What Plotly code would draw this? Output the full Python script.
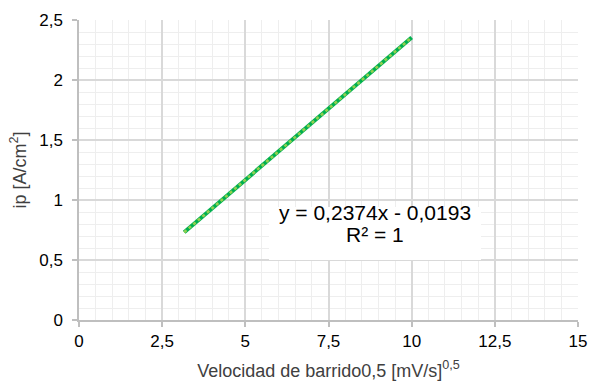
import plotly.graph_objects as go

# Square root of the scan rate, [mV/s]^0.5, and the measured peak current density
sqrt_scan_rate = [3.162, 4.472, 5.477, 7.071, 8.367, 10.0]
peak_current = [0.731, 1.042, 1.281, 1.659, 1.967, 2.355]

# Linear fit reported on the chart
slope = 0.2374
intercept = -0.0193
r_squared = 1

x_ticks = [0, 2.5, 5, 7.5, 10, 12.5, 15]
y_ticks = [0, 0.5, 1, 1.5, 2, 2.5]

FONT = "Liberation Sans, Arial, sans-serif"
TEXT = "#404040"

fit_x = [min(sqrt_scan_rate), max(sqrt_scan_rate)]
fit_y = [slope * v + intercept for v in fit_x]

fig = go.Figure()
fig.add_trace(go.Scatter(
    x=sqrt_scan_rate, y=peak_current, mode="lines",
    line=dict(color="#00B050", width=4), showlegend=False,
))
fig.add_trace(go.Scatter(
    x=fit_x, y=fit_y, mode="lines",
    line=dict(color="#92D050", width=2.6, dash="dot"), showlegend=False,
))

# Equation label with white background
fig.add_shape(type="rect", xref="paper", yref="paper",
              x0=(269 - 79) / 499, x1=(481 - 79) / 499,
              y0=(320 - 260) / 300, y1=(320 - 207) / 300,
              fillcolor="white", line=dict(width=0), layer="above")
eq_text = f"y = {slope:.4f}x - {abs(intercept):.4f}".replace(".", ",")
fig.add_annotation(x=(375 - 79) / 499, y=(320 - 226) / 300, xref="paper", yref="paper",
                   text=eq_text, showarrow=False,
                   font=dict(family=FONT, size=21, color="#000000"))
fig.add_annotation(x=(375 - 79) / 499, y=(320 - 248) / 300, xref="paper", yref="paper",
                   text=f"R² = {r_squared}", showarrow=False,
                   font=dict(family=FONT, size=21, color="#000000"))

axis_common = dict(
    showline=True, linecolor="#BFBFBF", linewidth=1.5,
    gridcolor="#D9D9D9", gridwidth=1.5,
    ticks="outside", ticklen=5, tickcolor="#BFBFBF", tickwidth=1.5,
    tickfont=dict(family=FONT, size=17, color="#000000"),
    zeroline=False, automargin=False,
)

fig.update_xaxes(
    range=[0, 15], tickvals=x_ticks, **axis_common,
    minor=dict(dtick=0.5, showgrid=True, gridcolor="#EEEEEE", gridwidth=1.2, ticks=""),
    title=dict(text="Velocidad de barrido0,5 [mV/s]<sup>0,5</sup>",
               font=dict(family=FONT, size=18, color=TEXT), standoff=14),
)
fig.update_yaxes(
    range=[0, 2.5], tickvals=y_ticks, **axis_common,
    minor=dict(dtick=0.1, showgrid=True, gridcolor="#EEEEEE", gridwidth=1.2, ticks=""),
    ticklabelstandoff=6,
    title=dict(text="ip [A/cm<sup>2</sup>]",
               font=dict(family=FONT, size=18, color=TEXT), standoff=8),
)

fig.update_layout(
    width=589, height=381,
    margin=dict(l=79, r=11, t=20, b=61),
    paper_bgcolor="white", plot_bgcolor="white",
    separators=",.",
)

fig.write_html("out.html")
